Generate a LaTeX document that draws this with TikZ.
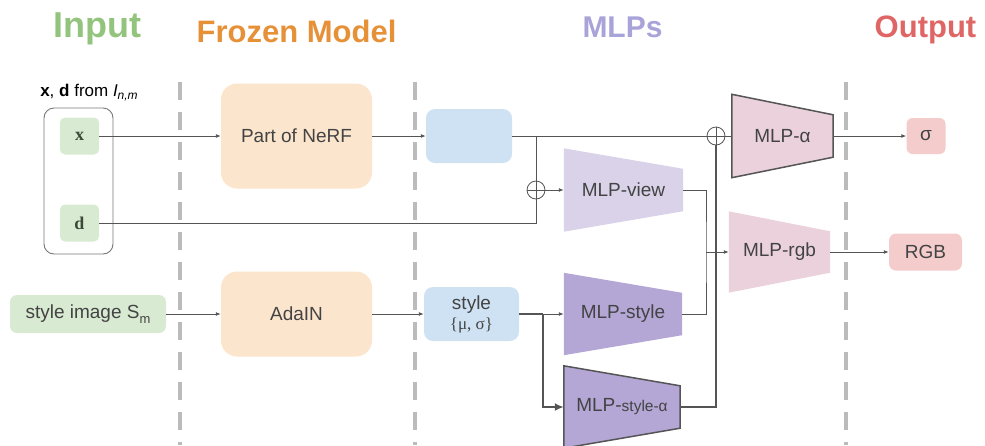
\documentclass[tikz,border=0pt]{standalone}
\usepackage{fontspec}
\setmainfont{Liberation Sans}
\newfontfamily\serifx{Liberation Serif}
\usetikzlibrary{arrows.meta,backgrounds,calc}
\definecolor{tgreen}{HTML}{93C47D}
\definecolor{torange}{HTML}{E69138}
\definecolor{tpurple}{HTML}{A8A3D8}
\definecolor{tred}{HTML}{E06666}
\definecolor{lgreen}{HTML}{D9EAD3}
\definecolor{lorange}{HTML}{FCE5CD}
\definecolor{lblue}{HTML}{CFE2F3}
\definecolor{llav}{HTML}{D9D2E9}
\definecolor{mpurple}{HTML}{B4A7D6}
\definecolor{lpink}{HTML}{EAD1DC}
\definecolor{lred}{HTML}{F4CCCC}
\definecolor{wirec}{HTML}{555555}
\definecolor{sepc}{HTML}{BBBBBB}
\definecolor{txtc}{HTML}{434343}
\definecolor{xdc}{HTML}{3B4A38}
\newcommand\lbl{\fontsize{19}{21}\selectfont}
\newcommand\trapz[4]{%
  \fill[#3,#4] (#1.north west) -- ([yshift=-#2pt]#1.north east) -- ([yshift=#2pt]#1.south east) -- (#1.south west) -- cycle;}
\begin{document}
\begin{tikzpicture}[x=1pt,y=-1pt,
  ttl/.style={anchor=base,font=\fontsize{31}{33}\selectfont\bfseries},
  rbox/.style={rounded corners=#1,inner sep=0pt,text=txtc,font=\lbl,align=center},
  rbox/.default=7pt,
  trap/.style={inner sep=0pt,text=txtc,font=\lbl},
  wire/.style={draw=wirec,line width=0.9pt},
  arr/.style={wire,-{Latex[length=5pt,width=4pt]}},
  thickwire/.style={draw=wirec,line width=1.9pt},
  sepline/.style={draw=sepc,line width=4pt,dash pattern=on 18pt off 12pt},
  oplus/.style={circle,draw=wirec,line width=0.8pt,minimum size=18pt,inner sep=0pt,fill=white,
    path picture={\draw[wirec,line width=0.8pt]
      (path picture bounding box.north) -- (path picture bounding box.south)
      (path picture bounding box.west) -- (path picture bounding box.east);}}
]
\useasboundingbox (0,0) rectangle (985,445);

% titles
\node[ttl,text=tgreen,font=\fontsize{36}{38}\selectfont\bfseries] (tin) at (97.5,37) {Input};
\node[ttl,text=torange] (tfm) at (296.5,42) {Frozen Model};
\node[ttl,text=tpurple,font=\fontsize{30}{32}\selectfont\bfseries] (tmlp) at (622.5,37) {MLPs};
\node[ttl,text=tred] (tout) at (925.5,37) {Output};

% separators
\draw[sepline] (180,82) -- (180,445);
\draw[sepline] (415,82) -- (415,445);
\draw[sepline] (846,82) -- (846,445);

% input
\node[anchor=base,font=\fontsize{17}{19}\selectfont,text=black] (hdr) at (89,96)
  {\textbf{x}, \textbf{d} from \textit{I}\raisebox{-0.4ex}{\fontsize{12}{12}\selectfont\textit{n,m}}};
\node[draw=wirec!80,line width=0.9pt,rounded corners=10pt,minimum width=69pt,minimum height=146pt] (ibox) at (78.5,181) {};
\node[rbox=5pt,fill=lgreen,minimum width=39pt,minimum height=37pt,text=xdc,font=\serifx\fontsize{18}{20}\selectfont\bfseries] (xin) at (79.5,136) {x};
\node[rbox=5pt,fill=lgreen,minimum width=39pt,minimum height=37pt,text=xdc,font=\serifx\fontsize{18}{20}\selectfont\bfseries] (din) at (79.5,223) {d};
\node[rbox,fill=lgreen,minimum width=156pt,minimum height=38pt] (simg) at (88,314)
  {style image S\raisebox{-0.45ex}{\fontsize{13}{13}\selectfont m}};

% frozen model
\node[rbox=16pt,fill=lorange,minimum width=151pt,minimum height=105pt] (nerf) at (296.5,136) {Part of NeRF};
\node[rbox=16pt,fill=lorange,minimum width=151pt,minimum height=85pt] (adain) at (296.5,314) {AdaIN};

% features
\node[rbox=9pt,fill=lblue,minimum width=86pt,minimum height=54pt] (feat) at (469,136) {};
\node[rbox=9pt,fill=lblue,minimum width=95pt,minimum height=54pt,font=\fontsize{19}{22}\selectfont] (style) at (471.5,314)
  {style\\[-2pt]{\serifx\fontsize{17}{19}\selectfont\{μ, σ\}}};

% MLPs
\node[trap,minimum width=119pt,minimum height=83pt] (view) at (623.5,190) {MLP-view};
\node[trap,minimum width=118pt,minimum height=82pt] (mstyle) at (623,314) {MLP-style};
\node[trap,minimum width=116pt,minimum height=82pt] (mstylea) at (622,407)
  {MLP-{\fontsize{15.5}{17}\selectfont style-α}};
\node[trap,minimum width=101pt,minimum height=83pt] (malpha) at (782.5,136) {MLP-α};
\node[trap,minimum width=101pt,minimum height=81pt] (mrgb) at (779.5,252) {MLP-rgb};
\begin{pgfonlayer}{background}
  \trapz{view}{20.5}{llav}{}
  \trapz{mstyle}{20}{mpurple}{}
  \trapz{mstylea}{20}{mpurple}{draw=wirec,line width=1.5pt}
  \trapz{malpha}{20.5}{lpink}{draw=wirec,line width=1.5pt}
  \trapz{mrgb}{20}{lpink}{}
\end{pgfonlayer}

% outputs
\node[rbox=6pt,fill=lred,minimum width=39pt,minimum height=36pt] (sig) at (926,136) {σ};
\node[rbox=7pt,fill=lred,minimum width=73pt,minimum height=37pt] (rgb) at (925.5,252) {RGB};

% oplus
\node[oplus] (op1) at (536,190) {};
\node[oplus] (op2) at (716,136) {};

% junctions
\coordinate (br1) at (536,136);
\coordinate (jv) at (706,252);
\coordinate (bs) at (543,314);

% connectors
\draw[arr] (xin.east) -- (nerf.west);
\draw[arr] (nerf.east) -- (feat.west);
\draw[wire] (feat.east) -- (op2.west);
\draw[wire] (op2.east) -- (malpha.west);
\draw[wire] (br1) -- (op1.north);
\draw[wire] (din.east) -| (op1.south);
\draw[arr] (op1.east) -- (view.west);
\draw[wire] (view.east) -| (jv) |- (mstyle.east);
\draw[arr] (jv) -- (mrgb.west);
\draw[arr] (malpha.east) -- (sig.west);
\draw[arr] (mrgb.east) -- (rgb.west);
\draw[arr] (simg.east) -- (adain.west);
\draw[arr] (adain.east) -- (style.west);
\draw[thickwire] (style.east) -- (bs);
\draw[arr] (bs) -- (mstyle.west);
\draw[thickwire,-{Latex[length=9pt,width=8pt]}] (bs) |- (mstylea.west);
\draw[thickwire] (mstylea.east) -| (op2.south);
\end{tikzpicture}
\end{document}
